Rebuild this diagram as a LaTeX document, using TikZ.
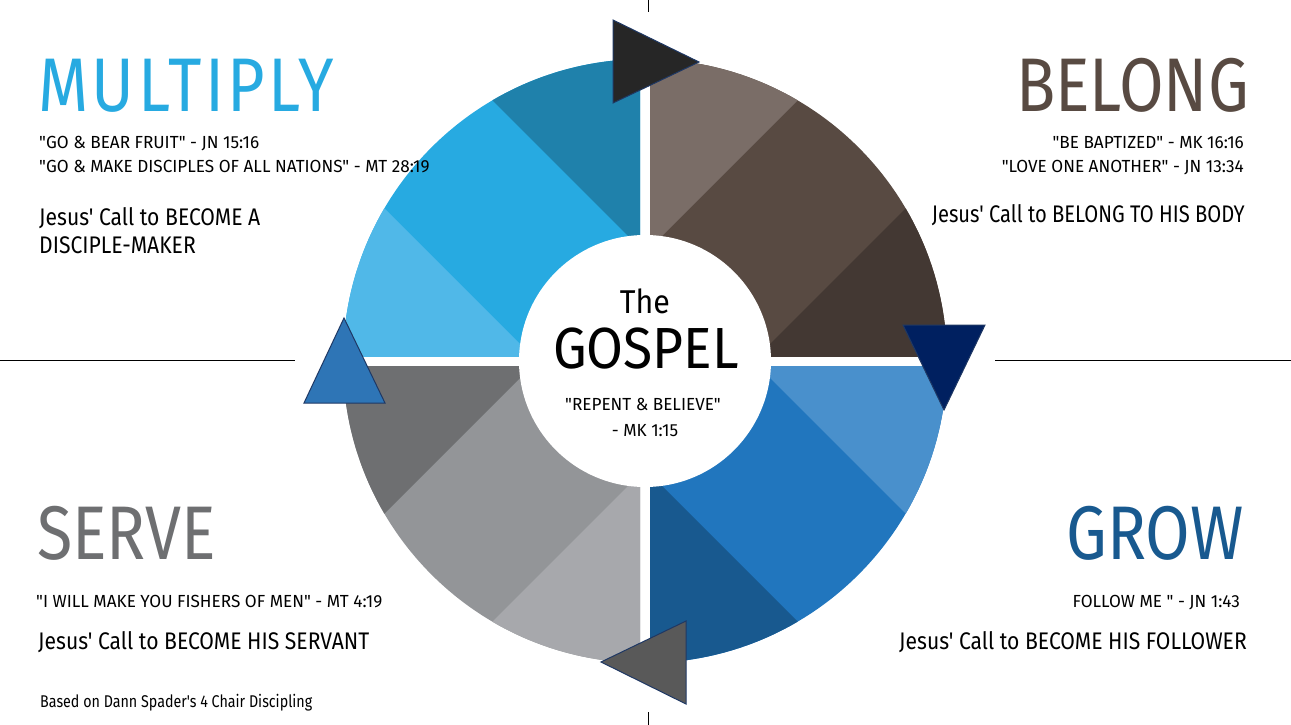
\documentclass[tikz,border=0pt]{standalone}
\usepackage{fontspec}
\setmainfont{Fira Sans}[FakeStretch=0.98, Ligatures=TeXOff]
\newfontfamily\titlefont{Fira Sans}[FakeStretch=0.85, Ligatures=TeXOff]
\newfontfamily\callfont{Fira Sans}[FakeStretch=0.88, Ligatures=TeXOff]
\newfontfamily\gospelfont{Fira Sans}[FakeStretch=0.92, Ligatures=TeXOff]
\newfontfamily\notefont{Fira Sans}[FakeStretch=0.84, Ligatures=TeXOff]
\usetikzlibrary{positioning}
\definecolor{mulA}{HTML}{50B8E8}
\definecolor{mulB}{HTML}{27AAE1}
\definecolor{mulC}{HTML}{1F81AB}
\definecolor{belA}{HTML}{433833}
\definecolor{belB}{HTML}{584A42}
\definecolor{belC}{HTML}{7A6D67}
\definecolor{groA}{HTML}{4990CC}
\definecolor{groB}{HTML}{2176BE}
\definecolor{groC}{HTML}{18598F}
\definecolor{serA}{HTML}{6E6F71}
\definecolor{serB}{HTML}{939598}
\definecolor{serC}{HTML}{A7A8AC}
\definecolor{navy}{HTML}{1F3864}
\definecolor{deepnavy}{HTML}{002060}
\definecolor{midblue}{HTML}{2E75B6}
\tikzset{
    title/.style={inner sep=0pt, font=\titlefont\fontsize{76}{80}\selectfont},
    verse/.style={inner sep=0pt, font=\fontsize{17.5}{22}\selectfont},
    callline/.style={inner sep=0pt, font=\callfont\fontsize{24}{29}\selectfont},
    arrowhead/.style={draw=navy, line width=1pt, line join=miter}
}
\begin{document}
\begin{tikzpicture}[x=1pt, y=-1pt]
\useasboundingbox (0,0) rectangle (1291,725);
\coordinate (C) at (645,361);

% divider lines
\coordinate (hl1) at (0,360);
\coordinate (hl2) at (295,360);
\coordinate (hr1) at (995,360);
\coordinate (hr2) at (1291,360);
\coordinate (vt1) at (648,0);
\coordinate (vt2) at (648,12);
\coordinate (vb1) at (648,712);
\coordinate (vb2) at (648,725);
\draw[line width=0.8pt] (hl1) -- (hl2) (hr1) -- (hr2) (vt1) -- (vt2) (vb1) -- (vb2);

% quadrants with three bands each
\foreach \sx/\sy/\ca/\cb/\cc in {-1/-1/mulA/mulB/mulC, 1/-1/belA/belB/belC, 1/1/groA/groB/groC, -1/1/serA/serB/serC}{
  \begin{scope}[shift={(C)}, xscale=\sx, yscale=\sy]
    \clip (5,5) rectangle (320,320);
    \clip (0,0) circle (302);
    \fill[\cb] (0,0) rectangle (320,320);
    \fill[\ca] (108,0) -- (508,400) -- (508,0) -- cycle;
    \fill[\cc] (0,108) -- (400,508) -- (0,508) -- cycle;
  \end{scope}
}

% centre
\node[circle, fill=white, minimum size=252pt, inner sep=0pt] (gospel) at (C) {};
\node[inner sep=0pt, anchor=base, font=\gospelfont\fontsize{33}{36}\selectfont] (the) at (645,313) {The};
\node[inner sep=0pt, anchor=base, font=\gospelfont\fontsize{58}{60}\selectfont] (gos) at (646,368) {GOSPEL};
\node[verse, anchor=base] (rep) at (643,410) {"REPENT \& BELIEVE"};
\node[verse, anchor=base] (mk) at (645,436) {- MK 1:15};

% direction triangles
\filldraw[arrowhead, fill=black!85] (613,20) -- (613,103) -- (699,62) -- cycle;
\filldraw[arrowhead, fill=deepnavy] (903,325) -- (985,325) -- (944,410) -- cycle;
\filldraw[arrowhead, fill=black!65] (686,621) -- (686,704) -- (601,662) -- cycle;
\filldraw[arrowhead, fill=midblue] (344,318) -- (385,403) -- (304,403) -- cycle;

% MULTIPLY
\node[title, text=mulB, anchor=base west] (mul) at (38,111) {\addfontfeatures{LetterSpace=4.5}MULTIPLY};
\node[verse, anchor=base west] (mul1) at (39,148) {"GO \& BEAR FRUIT" - JN 15:16};
\node[verse, anchor=base west] (mul2) at (39,172) {"GO \& MAKE DISCIPLES OF ALL NATIONS" - MT 28:19};
\node[callline, anchor=base west] (mul3) at (39,225) {Jesus' Call to BECOME A};
\node[callline, anchor=base west] (mul4) at (39,253) {DISCIPLE-MAKER};

% BELONG
\node[title, text=belB, anchor=base east] (bel) at (1249,111) {BELONG};
\node[verse, anchor=base east] (bel1) at (1244,148) {"BE BAPTIZED" - MK 16:16};
\node[verse, anchor=base east] (bel2) at (1244,172) {"LOVE ONE ANOTHER" - JN 13:34};
\node[callline, anchor=base east] (bel3) at (1245,222) {\addfontfeatures{FakeStretch=0.84}Jesus' Call to BELONG TO HIS BODY};

% SERVE
\node[title, text=serA, anchor=base west] (ser) at (37,559) {SERVE};
\node[verse, anchor=base west] (ser1) at (36,607) {"I WILL MAKE YOU FISHERS OF MEN" - MT 4:19};
\node[callline, anchor=base west] (ser2) at (38,649) {Jesus' Call to BECOME HIS SERVANT};
\node[inner sep=0pt, anchor=base west, font=\notefont\fontsize{17}{20}\selectfont] (based) at (40,707) {Based on Dann Spader's 4 Chair Discipling};

% GROW
\node[title, text=groC, anchor=base east] (gro) at (1244,559) {GROW};
\node[verse, anchor=base east] (gro1) at (1240,607) {FOLLOW ME " - JN 1:43};
\node[callline, anchor=base east] (gro2) at (1247,649) {Jesus' Call to BECOME HIS FOLLOWER};
\end{tikzpicture}
\end{document}
